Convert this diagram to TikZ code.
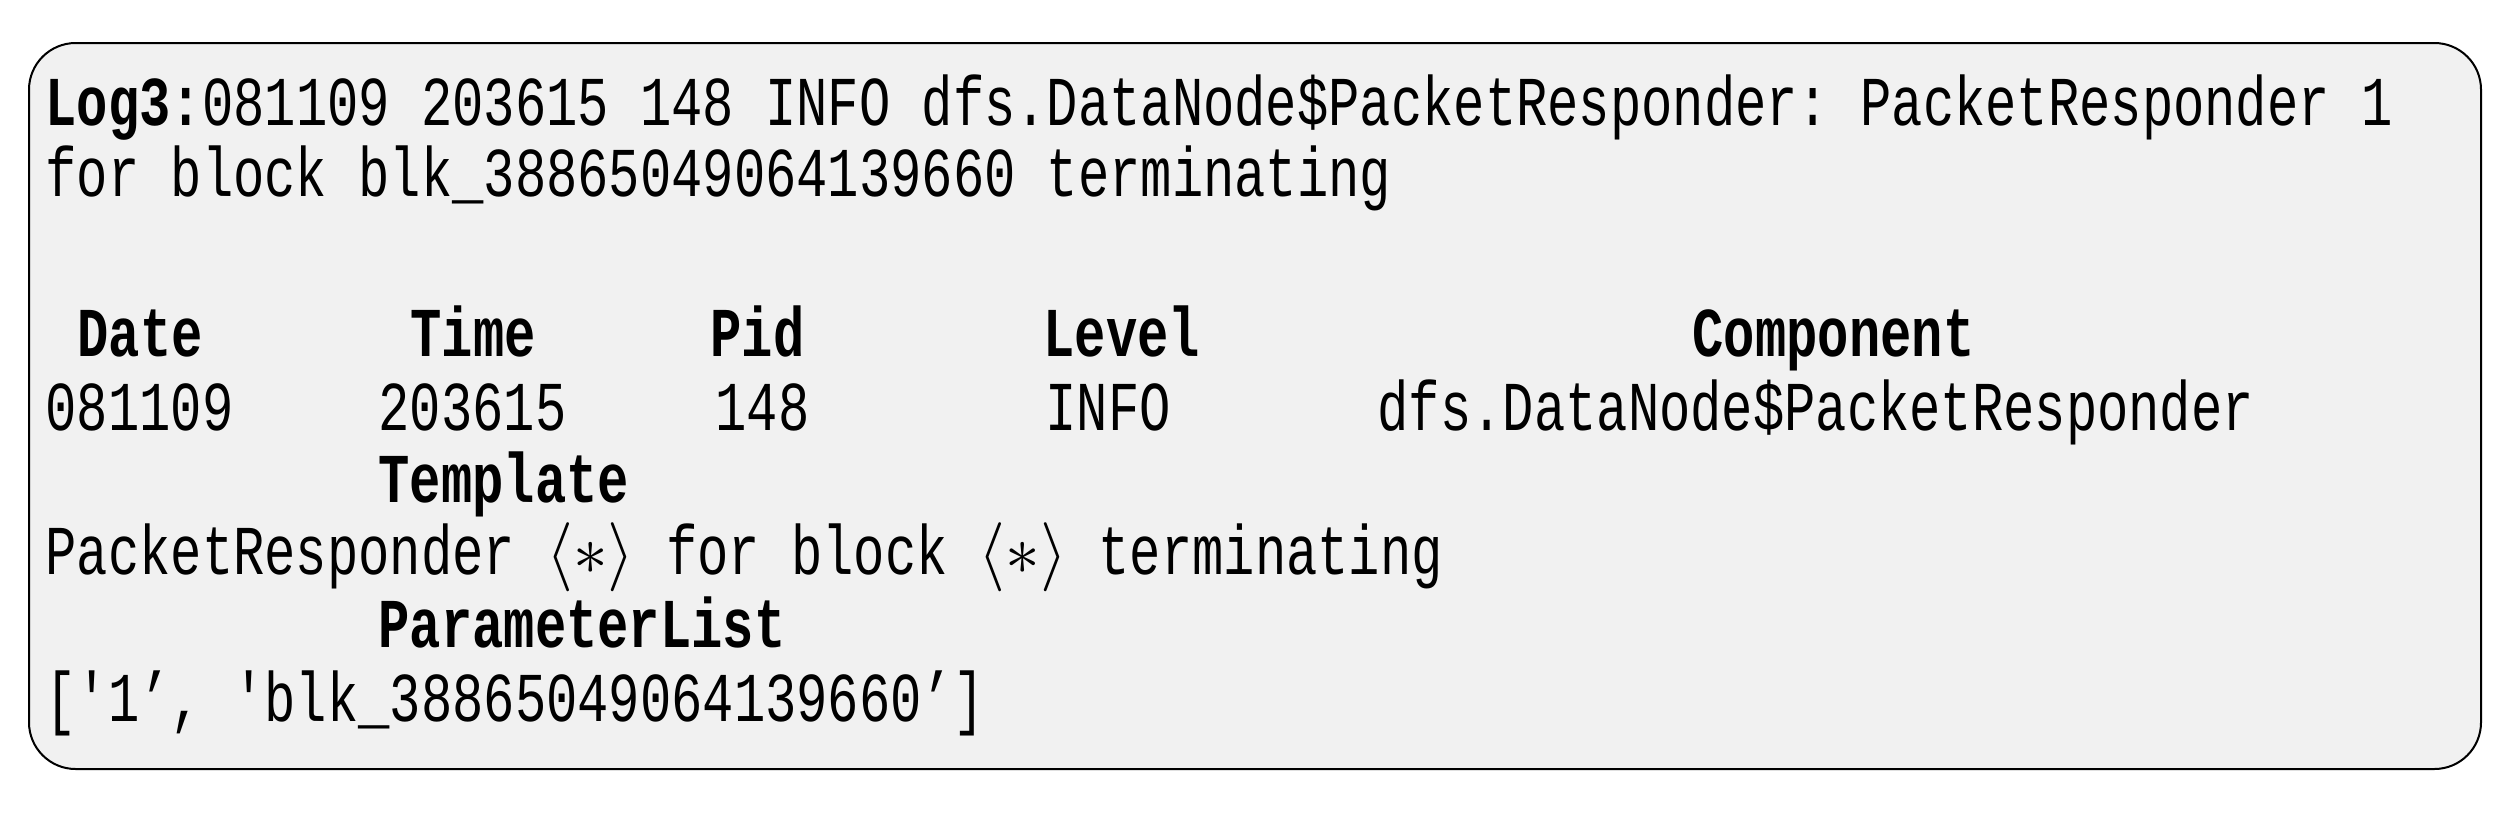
\documentclass[tikz,border=0pt]{standalone}
\usepackage{fontspec}
\setmonofont[FakeStretch=0.745]{Liberation Mono}
\begin{document}
\begin{tikzpicture}[x=0.3pt,y=-0.3pt,
  t/.style={anchor=base west,inner sep=0pt,font=\ttfamily\fontsize{21}{24}\selectfont}]
\useasboundingbox (0,0) rectangle (2513,815);
\draw[line width=0.6pt,fill={rgb,255:red,241;green,241;blue,241},rounded corners=14pt] (29,43) rectangle (2481,769);
\node[t] (l1) at (45,125) {\textbf{Log3:}081109 203615 148 INFO dfs.DataNode\$PacketResponder: PacketResponder 1};
\node[t] (l2) at (45,196) {for block blk\_38865049064139660 terminating};
\node[t] (h1) at (77,356) {\textbf{Date}};
\node[t] (h2) at (410,356) {\textbf{Time}};
\node[t] (h3) at (710,356) {\textbf{Pid}};
\node[t] (h4) at (1043,356) {\textbf{Level}};
\node[t] (h5) at (1692,356) {\textbf{Component}};
\node[t] (v1) at (45,430) {081109};
\node[t] (v2) at (378,430) {203615};
\node[t] (v3) at (715,430) {148};
\node[t] (v4) at (1045,430) {INFO};
\node[t] (v5) at (1377,430) {dfs.DataNode\$PacketResponder};
\node[t] (tt) at (378,502) {\textbf{Template}};
\node[t] (tv) at (45,574) {PacketResponder $\langle{*}\rangle$ for block $\langle{*}\rangle$ terminating};
\node[t] (pt) at (378,647) {\textbf{ParameterList}};
\node[t] (pv) at (45,721) {['1’, 'blk\_38865049064139660’]};
\end{tikzpicture}
\end{document}
